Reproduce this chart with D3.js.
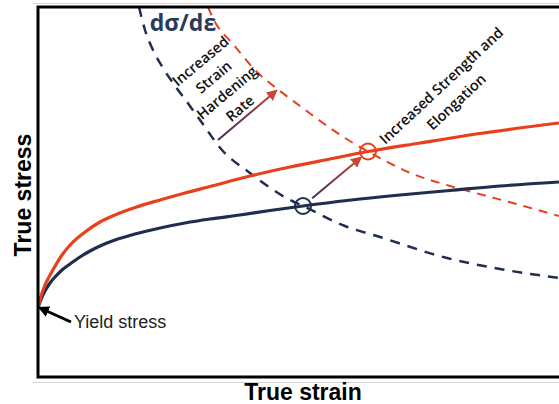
<!DOCTYPE html>
<html>
<head>
<meta charset="utf-8">
<script src="https://cdn.jsdelivr.net/npm/d3@7/dist/d3.min.js"></script>
<style>
  html, body { margin: 0; padding: 0; background: #fff; }
  svg { display: block; }
</style>
</head>
<body>
<svg id="chart" width="559" height="404"></svg>
<script>
// Flow curves (true stress vs true strain) for a base and an improved material,
// together with their strain-hardening-rate curves (dσ/dε), arbitrary units.
const baseStrain = [0, 0.002, 0.004, 0.007, 0.012, 0.017, 0.024, 0.032, 0.042, 0.052, 0.062, 0.077, 0.097, 0.122, 0.147, 0.172, 0.202, 0.232, 0.265, 0.309, 0.362, 0.412, 0.462, 0.521];
const baseStress = [69, 75, 80, 86, 94, 100, 107, 113, 120, 126, 131, 137, 143, 149, 154, 158, 162, 166.5, 171, 176.5, 182, 186.5, 191, 195];

const improvedStrain = [0, 0.002, 0.004, 0.007, 0.011, 0.016, 0.024, 0.034, 0.047, 0.062, 0.077, 0.097, 0.122, 0.147, 0.172, 0.212, 0.252, 0.292, 0.330, 0.382, 0.442, 0.521];
const improvedStress = [69, 77, 84, 92, 100, 109, 122, 134, 145, 155, 162, 169.5, 177, 184, 190.5, 201, 210, 218, 225.5, 234, 243.5, 254];

const baseRateStrain = [0.101, 0.107, 0.115, 0.125, 0.135, 0.149, 0.162, 0.184, 0.212, 0.252, 0.265, 0.307, 0.342, 0.409, 0.462, 0.521];
const baseRate       = [370, 347, 327, 309, 294, 275, 257, 227, 204, 177, 171, 151, 140, 119, 108, 99];

const improvedRateStrain = [0.170, 0.177, 0.195, 0.219, 0.242, 0.262, 0.285, 0.307, 0.330, 0.375, 0.412, 0.449, 0.482, 0.521];
const improvedRate       = [370, 355, 333, 305, 286, 271, 254, 239, 225.5, 203, 191, 181, 172, 161];

// Intersections of each flow curve with its hardening-rate curve (necking onset)
const neckStrain = [0.265, 0.330];
const neckStress = [171, 225.5];

const yieldPoint = [0, 69];

const labels = {
  xTitle: "True strain",
  yTitle: "True stress",
  rate: "dσ/dε",
  hardening: ["Increased", "Strain", "Hardening", "Rate"],
  improvement: ["Increased Strength and", "Elongation"],
  yieldLabel: "Yield stress"
};

const navy = "#1f2e4e";
const orange = "#e8401c";

const svg = d3.select("#chart");
const x = d3.scaleLinear().domain([0, 0.522]).range([38, 560]);
const y = d3.scaleLinear().domain([0, 370]).range([377, 7]);

const defs = svg.append("defs");
defs.append("clipPath").attr("id", "plot-clip")
  .append("rect").attr("x", 38).attr("y", 7).attr("width", 530).attr("height", 370);

function arrowMarker(id, color, size) {
  defs.append("marker")
    .attr("id", id)
    .attr("viewBox", "0 0 10 10")
    .attr("refX", 8).attr("refY", 5)
    .attr("markerUnits", "userSpaceOnUse")
    .attr("markerWidth", size).attr("markerHeight", size)
    .attr("orient", "auto")
    .append("path").attr("d", "M0,0 L10,5 L0,10 Z").attr("fill", color);
}
arrowMarker("head-black", "#000", 11);
arrowMarker("head-red", "#c8453a", 11);

function gradient(id, p0, p1) {
  const g = defs.append("linearGradient")
    .attr("id", id).attr("gradientUnits", "userSpaceOnUse")
    .attr("x1", p0[0]).attr("y1", p0[1]).attr("x2", p1[0]).attr("y2", p1[1]);
  g.append("stop").attr("offset", "0%").attr("stop-color", "#36305a");
  g.append("stop").attr("offset", "100%").attr("stop-color", "#cc4536");
}

// Shadow rules around the frame
svg.append("line").attr("x1", 33).attr("x2", 559).attr("y1", 3.5).attr("y2", 3.5)
  .attr("stroke", "#d4d4d4").attr("stroke-width", 1);
svg.append("line").attr("x1", 33).attr("x2", 559).attr("y1", 382.5).attr("y2", 382.5)
  .attr("stroke", "#d4d4d4").attr("stroke-width", 1);

const plot = svg.append("g").attr("clip-path", "url(#plot-clip)");

const line = d3.line().x(d => x(d[0])).y(d => y(d[1])).curve(d3.curveMonotoneX);
const zip = (a, b) => a.map((v, i) => [v, b[i]]);

// Hardening-rate curves (dashed)
plot.append("path").attr("d", line(zip(baseRateStrain, baseRate)))
  .attr("fill", "none").attr("stroke", navy).attr("stroke-width", 2.5)
  .attr("stroke-dasharray", "10,8");
plot.append("path").attr("d", line(zip(improvedRateStrain, improvedRate)))
  .attr("fill", "none").attr("stroke", orange).attr("stroke-width", 2)
  .attr("stroke-dasharray", "9,7");

// Flow curves (solid)
plot.append("path").attr("d", line(zip(baseStrain, baseStress)))
  .attr("fill", "none").attr("stroke", navy).attr("stroke-width", 3.2);
plot.append("path").attr("d", line(zip(improvedStrain, improvedStress)))
  .attr("fill", "none").attr("stroke", orange).attr("stroke-width", 3.2);

// Necking-point circles
const neckColors = [navy, orange];
plot.selectAll("circle.neck").data(zip(neckStrain, neckStress)).join("circle")
  .attr("class", "neck")
  .attr("cx", d => x(d[0])).attr("cy", d => y(d[1])).attr("r", 8)
  .attr("fill", "none").attr("stroke", (d, i) => neckColors[i]).attr("stroke-width", 2);

// Arrow from base necking point to improved necking point
{
  const p0 = [x(neckStrain[0]), y(neckStress[0])];
  const p1 = [x(neckStrain[1]), y(neckStress[1])];
  const len = Math.hypot(p1[0] - p0[0], p1[1] - p0[1]);
  const ux = (p1[0] - p0[0]) / len, uy = (p1[1] - p0[1]) / len;
  const a = [p0[0] + ux * 12, p0[1] + uy * 12];
  const b = [p1[0] - ux * 10, p1[1] - uy * 10];
  gradient("grad-neck", a, b);
  svg.append("line").attr("x1", a[0]).attr("y1", a[1]).attr("x2", b[0]).attr("y2", b[1])
    .attr("stroke", "url(#grad-neck)").attr("stroke-width", 2)
    .attr("marker-end", "url(#head-red)");
}

// Arrow showing the shift in hardening rate
{
  const a = [x(0.180), y(237)];
  const b = [x(0.238), y(286)];
  gradient("grad-rate", a, b);
  svg.append("line").attr("x1", a[0]).attr("y1", a[1]).attr("x2", b[0]).attr("y2", b[1])
    .attr("stroke", "url(#grad-rate)").attr("stroke-width", 2)
    .attr("marker-end", "url(#head-red)");
}

// Frame (left, top, bottom)
svg.append("path")
  .attr("d", `M560,${y(370)} L${x(0)},${y(370)} L${x(0)},${y(0)} L560,${y(0)}`)
  .attr("fill", "none").attr("stroke", "#000").attr("stroke-width", 3);

// Yield stress pointer
svg.append("line")
  .attr("x1", x(0.033)).attr("y1", y(55))
  .attr("x2", x(yieldPoint[0]) + 2).attr("y2", y(yieldPoint[1]))
  .attr("stroke", "#000").attr("stroke-width", 3)
  .attr("marker-end", "url(#head-black)");
svg.append("text").attr("x", x(0.036)).attr("y", y(49))
  .attr("font-family", "'Liberation Sans', Arial, sans-serif").attr("font-size", 18)
  .attr("fill", "#222").text(labels.yieldLabel);

// Axis titles
svg.append("text").attr("x", 303).attr("y", 400).attr("text-anchor", "middle")
  .attr("font-family", "'Liberation Sans', Arial, sans-serif").attr("font-weight", "bold")
  .attr("font-size", 23).attr("fill", "#000").text(labels.xTitle);
svg.append("text").attr("transform", "translate(31,195) rotate(-90)").attr("text-anchor", "middle")
  .attr("font-family", "'Liberation Sans', Arial, sans-serif").attr("font-weight", "bold")
  .attr("font-size", 23).attr("fill", "#000").text(labels.yTitle);

// dσ/dε heading
svg.append("text").attr("x", 183).attr("y", 31).attr("text-anchor", "middle")
  .attr("font-family", "'Open Sans', sans-serif").attr("font-weight", 700)
  .attr("font-size", 23).attr("fill", "#2b3a5c").text(labels.rate);

// Rotated multi-line annotations
function rotatedBlock(lines, cx, cy, angle, lineH) {
  const rad = angle * Math.PI / 180;
  const px = -Math.sin(rad), py = Math.cos(rad); // perpendicular (line advance)
  const n = lines.length;
  lines.forEach((t, i) => {
    const k = (i - (n - 1) / 2) * lineH;
    svg.append("text")
      .attr("transform", `translate(${cx + px * k},${cy + py * k}) rotate(${angle})`)
      .attr("text-anchor", "middle").attr("dominant-baseline", "central")
      .attr("font-family", "'Open Sans', sans-serif").attr("font-weight", 600)
      .attr("font-size", 14.5).attr("fill", "#111").text(t);
  });
}
rotatedBlock(labels.hardening, 220, 84.5, -40, 20.5);
rotatedBlock(labels.improvement, 448.5, 93.5, -43, 22);
</script>
</body>
</html>
